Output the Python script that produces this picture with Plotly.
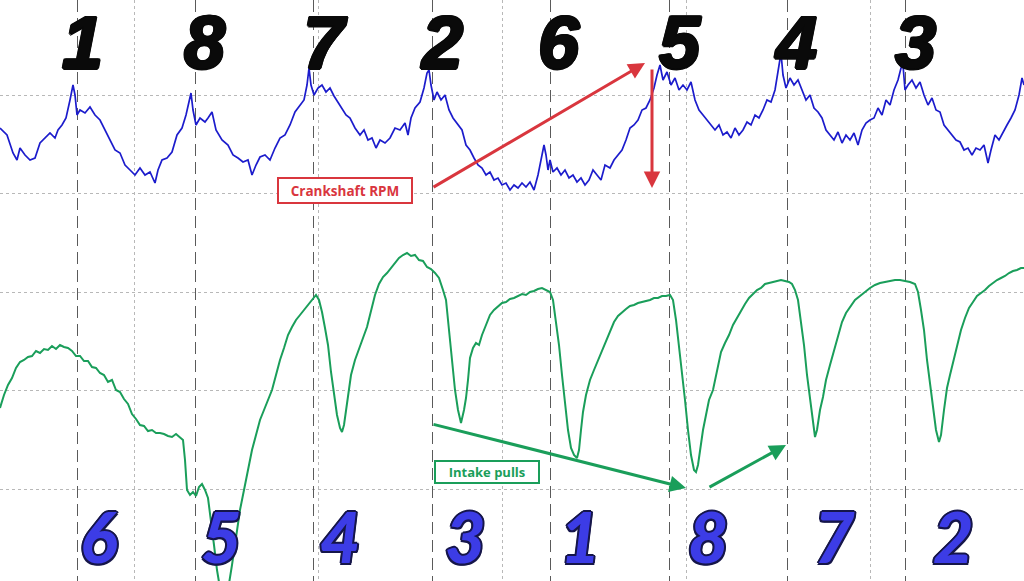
import plotly.graph_objects as go

# Crankshaft RPM trace (time in samples, value in screen units: lower = higher RPM)
rpm_t = [0, 7, 13, 17, 20, 25, 30, 35, 40, 45, 50, 55, 58, 62, 66, 70, 73, 75, 77, 80, 85, 90, 95, 100,
         105, 110, 115, 120, 125, 130, 135, 140, 145, 150, 155, 158, 162, 167, 172, 177, 182, 186, 189, 191,
         193, 196, 200, 205, 208, 212, 216, 222, 228, 233, 238, 243, 248, 252, 256, 260, 265, 270, 275, 280,
         285, 290, 295, 300, 304, 307, 309, 311, 314, 318, 322, 326, 330, 334, 338, 342, 346, 350, 355, 360,
         364, 368, 372, 376, 380, 385, 390, 395, 400, 405, 408, 411, 415, 420, 424, 427, 429, 431, 434, 437,
         441, 445, 449, 453, 458, 462, 466, 470, 474, 478, 482, 486, 490, 494, 498, 502, 506, 510, 514, 518,
         522, 526, 530, 534, 538, 541, 544, 546, 548, 550, 553, 557, 561, 565, 569, 573, 577, 581, 585, 589,
         593, 597, 601, 605, 610, 614, 618, 622, 626, 630, 634, 638, 642, 646, 650, 654, 657, 660, 663, 667,
         671, 675, 679, 683, 687, 691, 695, 699, 703, 707, 711, 715, 719, 723, 727, 731, 735, 739, 743, 747,
         751, 755, 759, 763, 767, 771, 775, 779, 781, 783, 786, 790, 794, 798, 802, 806, 810, 814, 818, 822,
         826, 830, 834, 838, 842, 846, 850, 854, 858, 862, 866, 870, 874, 878, 882, 886, 890, 894, 898, 901,
         903, 905, 908, 912, 916, 920, 924, 928, 932, 936, 940, 944, 948, 952, 956, 960, 964, 968, 972, 976,
         980, 984, 988, 991, 995, 999, 1003, 1007, 1011, 1015, 1019, 1022, 1024]
rpm_v = [128, 135, 153, 160, 148, 155, 160, 158, 143, 138, 133, 138, 130, 125, 118, 100, 85, 95, 115, 110, 113, 107, 115, 120,
         130, 140, 150, 153, 165, 170, 175, 168, 175, 172, 183, 170, 160, 158, 152, 135, 128, 115, 100, 93,
         110, 125, 118, 122, 118, 112, 130, 140, 145, 155, 158, 162, 160, 175, 165, 157, 155, 160, 148, 138,
         135, 125, 112, 105, 100, 85, 68, 85, 95, 88, 85, 92, 88, 96, 102, 108, 115, 118, 128, 135,
         130, 140, 138, 148, 140, 143, 138, 128, 130, 123, 135, 118, 108, 102, 88, 73, 70, 85, 100, 92,
         100, 95, 110, 118, 125, 130, 145, 150, 158, 165, 168, 175, 172, 180, 178, 185, 183, 190, 185, 188,
         183, 187, 182, 190, 175, 160, 145, 155, 170, 160, 172, 168, 175, 170, 178, 175, 182, 178, 185, 180,
         170, 175, 180, 165, 168, 160, 155, 150, 140, 128, 125, 120, 110, 108, 100, 88, 75, 65, 80, 72,
         85, 78, 90, 85, 90, 82, 100, 110, 115, 120, 125, 130, 125, 135, 132, 138, 128, 135, 130, 122,
         125, 115, 118, 110, 100, 102, 90, 62, 53, 75, 88, 78, 85, 80, 90, 100, 95, 108, 112, 118,
         130, 135, 140, 132, 143, 135, 140, 133, 145, 130, 123, 120, 118, 108, 115, 100, 105, 90, 80, 68,
         65, 90, 85, 80, 88, 82, 95, 105, 98, 110, 112, 125, 130, 135, 140, 142, 150, 148, 155, 148,
         150, 145, 163, 150, 135, 140, 132, 125, 118, 110, 95, 78, 85]

# Intake manifold pressure trace
map_t = [0, 4, 8, 12, 16, 20, 24, 28, 32, 36, 40, 44, 48, 52, 56, 60, 64, 68, 72, 76, 80, 84, 88, 92, 96, 100,
         104, 108, 112, 116, 120, 124, 128, 132, 136, 140, 144, 148, 152, 156, 160, 164, 168, 172, 176, 180,
         183, 185, 187, 190, 193, 196, 199, 202, 205, 208, 211, 214, 217, 220, 224, 228, 232, 236, 240, 244,
         248, 252, 256, 260, 264, 268, 272, 276, 280, 284, 288, 292, 296, 300, 304, 308, 312, 316, 319, 322,
         325, 328, 331, 334, 337, 340, 342, 344, 346, 348, 351, 355, 359, 363, 367, 371, 375, 379, 383, 387,
         391, 395, 399, 403, 407, 411, 415, 419, 423, 427, 431, 435, 439, 443, 446, 449, 452, 455, 458, 461,
         464, 466, 468, 470, 473, 476, 479, 482, 486, 490, 494, 498, 502, 506, 510, 514, 518, 522, 526, 530,
         534, 538, 542, 546, 550, 553, 556, 559, 562, 565, 568, 571, 574, 577, 579, 581, 583, 586, 590, 594,
         598, 602, 606, 610, 614, 618, 622, 626, 630, 634, 638, 642, 646, 650, 654, 658, 662, 666, 670, 673,
         676, 679, 682, 685, 688, 691, 694, 696, 698, 700, 703, 706, 709, 713, 717, 721, 725, 729, 733, 737,
         741, 745, 749, 753, 757, 761, 765, 769, 773, 777, 781, 785, 789, 792, 795, 798, 801, 804, 807, 810,
         813, 815, 817, 820, 823, 826, 830, 834, 838, 842, 846, 850, 855, 860, 865, 870, 875, 880, 885, 890,
         895, 900, 905, 910, 915, 918, 921, 924, 927, 930, 933, 936, 939, 941, 944, 947, 950, 953, 957, 961,
         965, 969, 973, 977, 981, 985, 989, 993, 997, 1001, 1005, 1009, 1013, 1017, 1021, 1024]
map_v = [408, 395, 385, 378, 368, 362, 360, 357, 356, 351, 353, 349, 350, 346, 349, 345, 347, 348, 351, 356, 356, 361, 361, 367, 368, 373,
         375, 382, 380, 390, 392, 399, 404, 414, 419, 425, 426, 431, 430, 433, 433, 434, 436, 437, 434, 438,
         440, 460, 490, 495, 492, 496, 487, 484, 490, 498, 520, 545, 570, 588, 595, 590, 565, 535, 510, 490,
         468, 450, 435, 420, 410, 400, 390, 375, 360, 348, 335, 327, 320, 315, 310, 305, 300, 295, 300, 312,
         328, 345, 372, 395, 415, 428, 432, 425, 410, 392, 375, 360, 348, 338, 327, 310, 295, 284, 277, 273,
         268, 262, 258, 255, 253, 256, 255, 260, 261, 267, 269, 273, 278, 290, 300, 330, 360, 390, 410, 423,
         410, 398, 380, 358, 348, 343, 345, 335, 325, 315, 310, 306, 303, 302, 299, 298, 296, 294, 295, 292,
         291, 289, 288, 290, 292, 300, 320, 345, 375, 405, 430, 448, 455, 458, 450, 430, 412, 395, 380, 370,
         360, 350, 340, 330, 322, 316, 312, 309, 306, 305, 303, 302, 301, 300, 298, 298, 296, 296, 295, 300,
         320, 345, 372, 400, 430, 455, 470, 472, 465, 450, 430, 415, 400, 390, 372, 352, 343, 335, 325, 318,
         310, 304, 298, 294, 290, 288, 284, 283, 282, 281, 280, 281, 282, 284, 290, 300, 320, 345, 375, 400,
         425, 437, 430, 410, 397, 380, 365, 350, 335, 322, 313, 307, 300, 296, 292, 288, 285, 283, 282, 281,
         280, 280, 281, 282, 284, 292, 310, 330, 360, 385, 410, 430, 442, 435, 410, 388, 375, 362, 345, 330,
         318, 308, 302, 296, 293, 290, 286, 283, 280, 278, 276, 273, 271, 270, 268, 268]

# Firing order labels
top_labels = ["1", "8", "7", "2", "6", "5", "4", "3"]
top_label_t = [82, 205, 325, 441, 559, 680, 795, 915]
bottom_labels = ["6", "5", "4", "3", "1", "8", "7", "2"]
bottom_label_t = [98, 221, 340, 465, 580, 708, 834, 953]

BLUE = "#1c1ccc"
GREEN = "#1a9e5a"
RED = "#d9363e"

fig = go.Figure()
fig.add_trace(go.Scatter(x=rpm_t, y=rpm_v, mode="lines", line=dict(color=BLUE, width=1.7),
                         xaxis="x", yaxis="y", hoverinfo="skip"))
fig.add_trace(go.Scatter(x=map_t, y=map_v, mode="lines", line=dict(color=GREEN, width=2),
                         xaxis="x2", yaxis="y", hoverinfo="skip"))

annotations = []
thick = ("1.5px 0 0 #0a0a0a, -1.5px 0 0 #0a0a0a, 0 1.5px 0 #0a0a0a, 0 -1.5px 0 #0a0a0a, "
         "1px 1px 0 #0a0a0a, -1px -1px 0 #0a0a0a, 1px -1px 0 #0a0a0a, -1px 1px 0 #0a0a0a")
for lab, t in zip(top_labels, top_label_t):
    annotations.append(dict(x=t, y=42, xref="x", yref="y", text=lab, showarrow=False,
                            xanchor="center", yanchor="middle",
                            font=dict(family="Liberation Sans", size=74, color="#0a0a0a",
                                      weight=700, style="italic", shadow=thick)))
outline = ("2px 0 0 #16164a, -2px 0 0 #16164a, 0 2px 0 #16164a, 0 -2px 0 #16164a, "
           "1.5px 1.5px 0 #16164a, -1.5px -1.5px 0 #16164a, 1.5px -1.5px 0 #16164a, -1.5px 1.5px 0 #16164a")
for lab, t in zip(bottom_labels, bottom_label_t):
    annotations.append(dict(x=t, y=536, xref="x", yref="y", text=lab, showarrow=False,
                            xanchor="center", yanchor="middle",
                            font=dict(family="Lato", size=70, color="#3c3ce6",
                                      weight=900, style="italic", shadow=outline)))

# arrows
arrows = [((645, 63), (432, 188), RED), ((652, 188), (652, 68), RED),
          ((686, 488), (432, 424), GREEN), ((786, 445), (708, 488), GREEN)]
for (hx, hy), (tx, ty), c in arrows:
    annotations.append(dict(x=hx, y=hy, ax=tx, ay=ty, xref="x", yref="y", axref="x", ayref="y",
                            text="", showarrow=True, arrowhead=2, arrowsize=1.1, arrowwidth=3,
                            arrowcolor=c))

annotations.append(dict(x=345, y=190, xref="x", yref="y", text="<b>Crankshaft RPM</b>", showarrow=False,
                        font=dict(family="Open Sans", size=13.5, color=RED),
                        bgcolor="white", bordercolor=RED, borderwidth=2, borderpad=3,
                        width=126, height=17))
annotations.append(dict(x=487, y=472, xref="x", yref="y", text="<b>Intake pulls</b>", showarrow=False,
                        font=dict(family="Open Sans", size=13, color=GREEN),
                        bgcolor="white", bordercolor=GREEN, borderwidth=2, borderpad=2,
                        width=98, height=16))

axis_common = dict(showticklabels=False, zeroline=False, showline=False, ticks="")
fig.update_layout(
    width=1024, height=581, margin=dict(l=0, r=0, t=0, b=0),
    paper_bgcolor="white", plot_bgcolor="white", showlegend=False,
    xaxis=dict(range=[0, 1024], showgrid=True, gridcolor="#b8b8b8", griddash="dot", gridwidth=1.2,
               tick0=134, dtick=184, **axis_common),
    xaxis2=dict(range=[0, 1024], overlaying="x", showgrid=True, gridcolor="#5a5a5a",
                griddash="12px,6px", gridwidth=1.4, tick0=77, dtick=118.4, **axis_common),
    yaxis=dict(range=[581, 0], showgrid=True, gridcolor="#b8b8b8", griddash="dot", gridwidth=1.2,
               tick0=95, dtick=98.5, **axis_common),
    annotations=annotations,
)
fig.write_html("out.html", config={"displayModeBar": False},
               post_script="document.body.style.margin='0px';document.body.style.overflow='hidden';")
